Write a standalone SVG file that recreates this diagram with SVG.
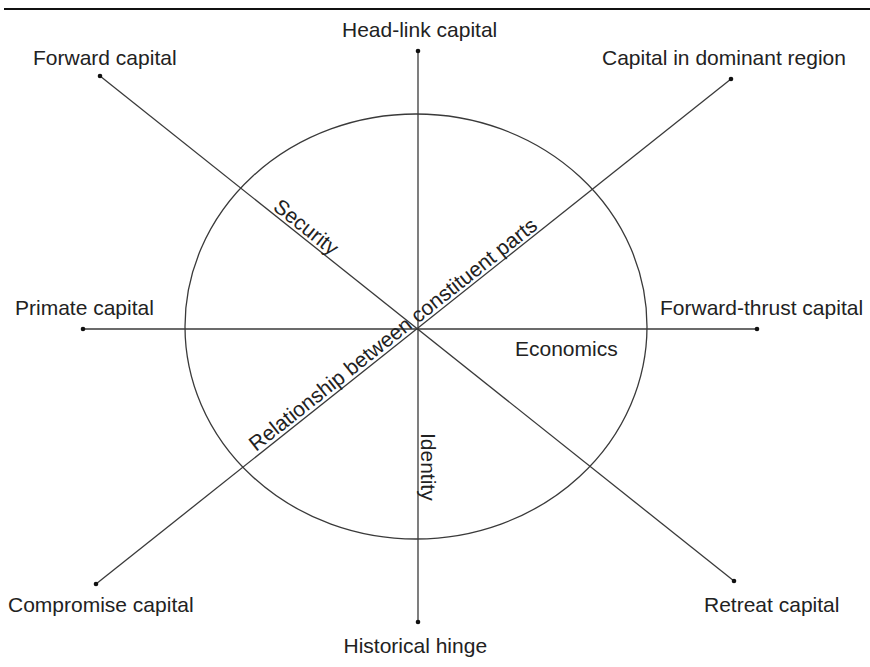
<svg xmlns="http://www.w3.org/2000/svg" width="870" height="667" viewBox="0 0 870 667">
  <style>
    .lbl { font-family: "Liberation Sans", Arial, sans-serif; font-size: 21px; fill: #222; }
    .axis { stroke: #3a3a3a; stroke-width: 1.3; fill: none; }
    .dot { fill: #111; }
  </style>
  <rect width="870" height="667" fill="#fff"/>
  <!-- heading rule -->
  <line x1="4" y1="9" x2="870" y2="9" stroke="#111" stroke-width="2"/>

  <g id="connectors">
    <ellipse class="axis" cx="416" cy="326.5" rx="231" ry="212.5"/>
    <line class="axis" x1="418" y1="51" x2="418" y2="622"/>
    <line class="axis" x1="83" y1="329" x2="757" y2="329"/>
    <line class="axis" x1="100" y1="76" x2="734" y2="581"/>
    <line class="axis" x1="731" y1="79" x2="96" y2="584"/>
  </g>

  <g id="forward-capital">
    <circle class="dot" cx="100" cy="76" r="2.3"/>
    <text class="lbl" x="33" y="65">Forward capital</text>
  </g>
  <g id="head-link-capital">
    <circle class="dot" cx="418" cy="51" r="2.3"/>
    <text class="lbl" x="342" y="37">Head-link capital</text>
  </g>
  <g id="capital-dominant-region">
    <circle class="dot" cx="731" cy="79" r="2.3"/>
    <text class="lbl" x="602" y="65">Capital in dominant region</text>
  </g>
  <g id="primate-capital">
    <circle class="dot" cx="83" cy="329" r="2.3"/>
    <text class="lbl" x="15" y="315">Primate capital</text>
  </g>
  <g id="forward-thrust-capital">
    <circle class="dot" cx="757" cy="329" r="2.3"/>
    <text class="lbl" x="660" y="315">Forward-thrust capital</text>
  </g>
  <g id="compromise-capital">
    <circle class="dot" cx="96" cy="584" r="2.3"/>
    <text class="lbl" x="8" y="612">Compromise capital</text>
  </g>
  <g id="historical-hinge">
    <circle class="dot" cx="418" cy="622" r="2.3"/>
    <text class="lbl" x="343.5" y="653">Historical hinge</text>
  </g>
  <g id="retreat-capital">
    <circle class="dot" cx="734" cy="581" r="2.3"/>
    <text class="lbl" x="704" y="612">Retreat capital</text>
  </g>

  <!-- dimension labels along the axes -->
  <g id="security">
    <text class="lbl" transform="translate(272,209) rotate(38.5)">Security</text>
  </g>
  <g id="relationship">
    <text class="lbl" transform="translate(256,452) rotate(-38.4)">Relationship between constituent parts</text>
  </g>
  <g id="economics">
    <text class="lbl" x="515" y="356">Economics</text>
  </g>
  <g id="identity">
    <text class="lbl" transform="translate(421,433) rotate(90)">Identity</text>
  </g>
</svg>
